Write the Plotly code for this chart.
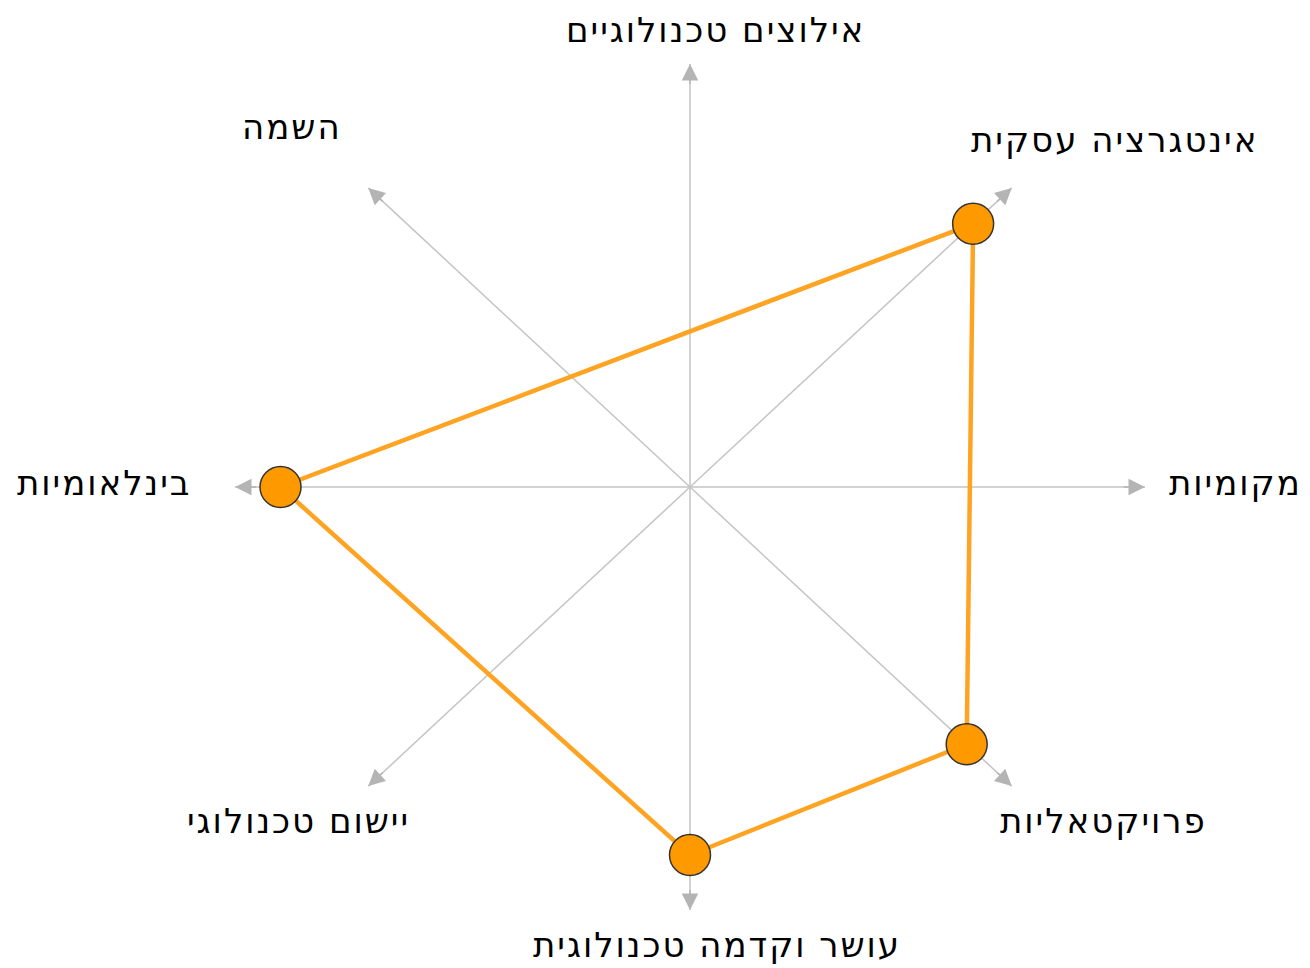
import numpy as np
import plotly.graph_objects as go

# axis categories, counter-clockwise from the top
categories = [
    "אילוצים טכנולוגיים",
    "אינטגרציה עסקית",
    "מקומיות",
    "פרויקטאליות",
    "עושר וקדמה טכנולוגית",
    "יישום טכנולוגי",
    "בינלאומיות",
    "השמה",
]
angles = [90, 45, 0, -45, -90, -135, 180, 135]

# profile drawn on the chart (in drawing order)
profile_categories = ["אינטגרציה עסקית", "בינלאומיות", "עושר וקדמה טכנולוגית", "פרויקטאליות"]
profile_values = [0.88, 0.90, 0.87, 0.86]

axis_len = 1.0
angle_of = dict(zip(categories, angles))

# label centres (data coords)
label_pos = {
    "אילוצים טכנולוגיים": (0.055, 1.08),
    "אינטגרציה עסקית": (0.934, 0.82),
    "מקומיות": (1.198, 0.01),
    "פרויקטאליות": (0.908, -0.79),
    "עושר וקדמה טכנולוגית": (0.06, -1.083),
    "יישום טכנולוגי": (-0.86, -0.79),
    "בינלאומיות": (-1.286, 0.01),
    "השמה": (-0.875, 0.851),
}

fig = go.Figure()

# axis lines
ax_x, ax_y = [], []
for a in angles:
    t = np.radians(a)
    ax_x += [0, axis_len * np.cos(t), None]
    ax_y += [0, axis_len * np.sin(t), None]
fig.add_trace(go.Scatter(x=ax_x, y=ax_y, mode="lines",
                         line=dict(color="#c4c4c4", width=1.5),
                         hoverinfo="skip", showlegend=False))

# profile polygon
t = np.radians([angle_of[c] for c in profile_categories])
px = list(np.array(profile_values) * np.cos(t))
py = list(np.array(profile_values) * np.sin(t))
fig.add_trace(go.Scatter(x=px + px[:1], y=py + py[:1], mode="lines",
                         line=dict(color="#ffa322", width=4.5),
                         hoverinfo="skip", showlegend=False))
fig.add_trace(go.Scatter(x=px, y=py, mode="markers",
                         marker=dict(size=41, color="#ff9900",
                                     line=dict(color="#333333", width=1.5)),
                         text=profile_categories, showlegend=False))

# arrow heads at axis tips
for a in angles:
    t = np.radians(a)
    fig.add_annotation(x=axis_len * np.cos(t), y=axis_len * np.sin(t),
                       ax=0.95 * axis_len * np.cos(t), ay=0.95 * axis_len * np.sin(t),
                       xref="x", yref="y", axref="x", ayref="y", text="",
                       showarrow=True, arrowhead=2, arrowsize=2.2, arrowwidth=1.5,
                       arrowcolor="#b4b4b4")

# labels
for c in categories:
    x, y = label_pos[c]
    fig.add_annotation(x=x, y=y, xref="x", yref="y",
                       text=f'<span style="letter-spacing:2px">{c}</span>',
                       showarrow=False, xanchor="center", yanchor="middle",
                       font=dict(family="DejaVu Sans", size=34, color="#000000"))

# page body keeps an 8px margin, so the figure is shifted by that much
fig.update_xaxes(range=[-682 / 455, 620 / 455], visible=False, fixedrange=True)
fig.update_yaxes(range=[-481 / 423, 479 / 423], visible=False, fixedrange=True)
fig.update_layout(width=1302, height=960, margin=dict(l=0, r=0, t=0, b=0),
                  paper_bgcolor="white", plot_bgcolor="white", showlegend=False)

fig.write_html("out.html")
